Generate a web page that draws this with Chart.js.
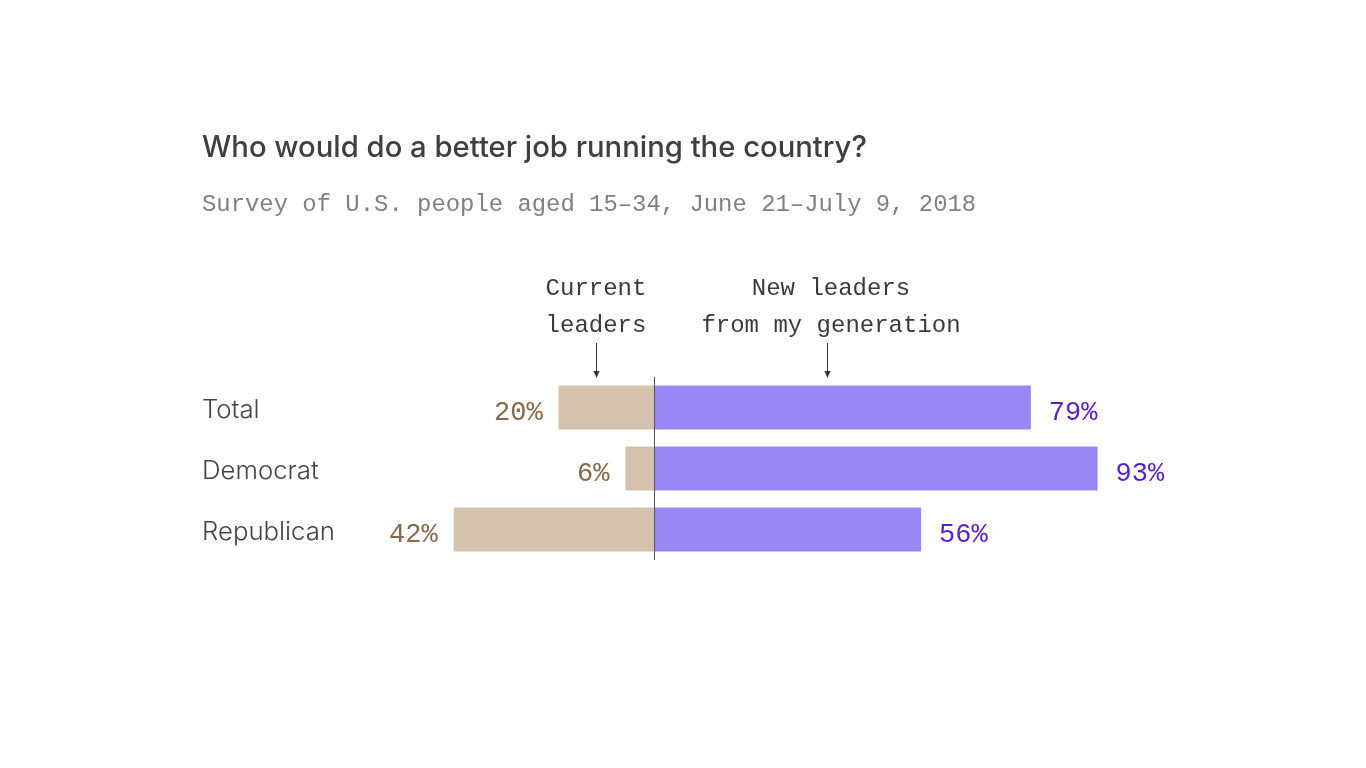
<!DOCTYPE html>
<html>
<head>
<meta charset="utf-8">
<script src="https://cdn.jsdelivr.net/npm/chart.js@4.4.1/dist/chart.umd.min.js"></script>
<style>
html,body{margin:0;padding:0;background:#fff;}
#wrap{position:relative;width:1366px;height:768px;}
canvas{position:absolute;left:0;top:0;}
</style>
</head>
<body>
<div id="wrap"><canvas id="c" width="1366" height="768"></canvas></div>
<script>
const categories = ["Total", "Democrat", "Republican"];
const currentLeaders = [20, 6, 42];
const newLeaders = [79, 93, 56];
const title = "Who would do a better job running the country?";
const subtitle = "Survey of U.S. people aged 15\u201334, June 21\u2013July 9, 2018";
const seriesNames = [["Current", "leaders"], ["New leaders", "from my generation"]];

const MONO = '"Liberation Mono", "DejaVu Sans Mono", monospace';
const SANS = 'Inter, Lato, "Open Sans", sans-serif';

function fitFont(ctx, text, weight, family, target, base) {
  ctx.font = weight + ' ' + base + 'px ' + family;
  const w = ctx.measureText(text).width;
  const size = base * target / w;
  return weight + ' ' + size.toFixed(2) + 'px ' + family;
}

const textPlugin = {
  id: 'texts',
  afterDatasetsDraw(chart) {
    const ctx = chart.ctx;
    const xs = chart.scales.x, ys = chart.scales.y;
    const area = chart.chartArea;
    ctx.save();
    // zero line
    const x0 = Math.round(xs.getPixelForValue(0)) + 0.5;
    ctx.strokeStyle = '#555';
    ctx.lineWidth = 1;
    ctx.beginPath();
    ctx.moveTo(x0, area.top);
    ctx.lineTo(x0, area.bottom);
    ctx.stroke();

    // title
    ctx.fillStyle = '#3f3f3f';
    ctx.textAlign = 'left';
    ctx.textBaseline = 'alphabetic';
    ctx.font = fitFont(ctx, title, '500', SANS, 665, 27);
    ctx.fillText(title, 202, 157);
    ctx.fillStyle = '#808080';
    ctx.font = '23.9px ' + MONO;
    ctx.fillText(subtitle, 202, 211);

    // series annotations
    ctx.fillStyle = '#3a3a3a';
    ctx.font = '24px ' + MONO;
    ctx.textAlign = 'center';
    ctx.fillText(seriesNames[0][0], 596, 295);
    ctx.fillText(seriesNames[0][1], 596, 332);
    ctx.fillText(seriesNames[1][0], 831, 295);
    ctx.fillText(seriesNames[1][1], 831, 332);
    const arrow = (x) => {
      ctx.strokeStyle = '#333';
      ctx.lineWidth = 1;
      ctx.beginPath();
      ctx.moveTo(x + 0.5, 343);
      ctx.lineTo(x + 0.5, 375);
      ctx.stroke();
      ctx.fillStyle = '#333';
      ctx.beginPath();
      ctx.moveTo(x + 0.5, 378);
      ctx.lineTo(x - 2.5, 371);
      ctx.lineTo(x + 3.5, 371);
      ctx.closePath();
      ctx.fill();
    };
    arrow(596);
    arrow(827);

    // category labels and values
    const catFont = fitFont(ctx, 'Republican', '300', SANS, 133, 26);
    categories.forEach((cat, i) => {
      const y = ys.getPixelForValue(i);
      ctx.textAlign = 'left';
      ctx.textBaseline = 'middle';
      ctx.fillStyle = '#444';
      ctx.font = catFont;
      ctx.fillText(cat, 202, y + 3);

      ctx.font = '27px ' + MONO;
      ctx.textAlign = 'right';
      ctx.fillStyle = '#86694b';
      ctx.fillText(currentLeaders[i] + '%', xs.getPixelForValue(-currentLeaders[i]) - 16, y + 5);
      ctx.textAlign = 'left';
      ctx.fillStyle = '#5a1fc9';
      ctx.fillText(newLeaders[i] + '%', xs.getPixelForValue(newLeaders[i]) + 18, y + 5);
    });
    ctx.restore();
  }
};

new Chart(document.getElementById('c'), {
  type: 'bar',
  data: {
    labels: categories,
    datasets: [
      { label: 'Current leaders', data: currentLeaders.map(v => -v), backgroundColor: '#d4c2ad', borderWidth: 0 },
      { label: 'New leaders from my generation', data: newLeaders, backgroundColor: '#9987f6', borderWidth: 0 }
    ]
  },
  options: {
    indexAxis: 'y',
    responsive: false,
    animation: false,
    events: [],
    barPercentage: 1,
    categoryPercentage: 44 / 61,
    layout: { padding: { left: 177, right: 235, top: 377, bottom: 208 } },
    scales: {
      x: { stacked: true, min: -100, max: 100, display: false },
      y: { stacked: true, display: false }
    },
    plugins: { legend: { display: false }, tooltip: { enabled: false } }
  },
  plugins: [textPlugin]
});
</script>
</body>
</html>
